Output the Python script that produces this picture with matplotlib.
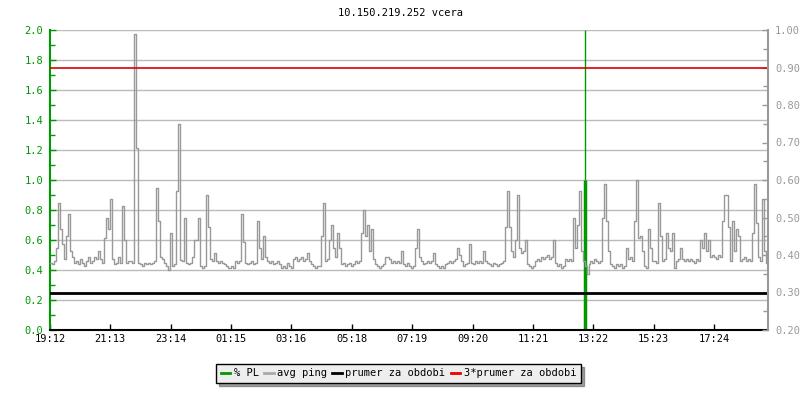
import numpy as np
import matplotlib
matplotlib.use('Agg')
import matplotlib.pyplot as plt
from matplotlib.ticker import MultipleLocator, FormatStrFormatter

# avg ping [ms], one sample every 4 minutes starting 19:12
ping_ms = [
    0.38, 0.375, 0.385, 0.42, 0.54, 0.47, 0.43, 0.39, 0.45, 0.51,
    0.41, 0.395, 0.38, 0.385, 0.375, 0.39, 0.38, 0.37, 0.385, 0.395,
    0.38, 0.385, 0.395, 0.39, 0.41, 0.39, 0.38, 0.445, 0.50, 0.47,
    0.55, 0.39, 0.375, 0.38, 0.395, 0.38, 0.53, 0.44, 0.38, 0.385,
    0.385, 0.38, 0.99, 0.685, 0.38, 0.375, 0.37, 0.38, 0.375, 0.38,
    0.375, 0.38, 0.385, 0.58, 0.49, 0.395, 0.39, 0.38, 0.37, 0.36,
    0.46, 0.37, 0.375, 0.57, 0.75, 0.387, 0.385, 0.50, 0.38, 0.375,
    0.38, 0.395, 0.44, 0.44, 0.50, 0.37, 0.365, 0.37, 0.56, 0.475,
    0.39, 0.385, 0.405, 0.385, 0.38, 0.385, 0.38, 0.375, 0.37, 0.365,
    0.365, 0.37, 0.365, 0.385, 0.38, 0.385, 0.51, 0.435, 0.38, 0.375,
    0.38, 0.385, 0.375, 0.38, 0.49, 0.42, 0.39, 0.45, 0.395, 0.385,
    0.38, 0.385, 0.375, 0.38, 0.385, 0.375, 0.365, 0.37, 0.365, 0.38,
    0.37, 0.365, 0.39, 0.395, 0.385, 0.39, 0.395, 0.385, 0.39, 0.405,
    0.385, 0.375, 0.37, 0.365, 0.37, 0.37, 0.45, 0.54, 0.385, 0.39,
    0.44, 0.48, 0.42, 0.395, 0.46, 0.42, 0.375, 0.38, 0.37, 0.375,
    0.38, 0.37, 0.375, 0.385, 0.38, 0.385, 0.46, 0.52, 0.45, 0.48,
    0.41, 0.47, 0.39, 0.375, 0.37, 0.365, 0.37, 0.375, 0.395, 0.395,
    0.39, 0.38, 0.385, 0.38, 0.385, 0.38, 0.41, 0.375, 0.37, 0.38,
    0.37, 0.365, 0.37, 0.42, 0.47, 0.395, 0.385, 0.375, 0.38, 0.385,
    0.38, 0.385, 0.405, 0.375, 0.37, 0.365, 0.37, 0.365, 0.375, 0.38,
    0.385, 0.38, 0.385, 0.39, 0.42, 0.40, 0.385, 0.37, 0.375, 0.38,
    0.43, 0.38, 0.375, 0.385, 0.38, 0.385, 0.38, 0.41, 0.385, 0.38,
    0.375, 0.37, 0.38, 0.375, 0.37, 0.375, 0.38, 0.385, 0.475, 0.57,
    0.475, 0.41, 0.395, 0.44, 0.56, 0.42, 0.405, 0.41, 0.44, 0.375,
    0.37, 0.365, 0.37, 0.385, 0.39, 0.385, 0.395, 0.39, 0.395, 0.40,
    0.39, 0.395, 0.44, 0.38, 0.37, 0.375, 0.365, 0.37, 0.39, 0.385,
    0.39, 0.385, 0.50, 0.42, 0.48, 0.57, 0.41, 0.385, 0.37, 0.35,
    0.375, 0.385, 0.38, 0.39, 0.385, 0.38, 0.385, 0.50, 0.59, 0.49,
    0.41, 0.375, 0.37, 0.365, 0.375, 0.37, 0.375, 0.365, 0.37, 0.42,
    0.39, 0.395, 0.385, 0.49, 0.60, 0.445, 0.45, 0.41, 0.37, 0.365,
    0.47, 0.42, 0.385, 0.385, 0.38, 0.54, 0.45, 0.385, 0.39, 0.46,
    0.42, 0.41, 0.46, 0.365, 0.385, 0.39, 0.42, 0.39, 0.385, 0.39,
    0.385, 0.39, 0.385, 0.38, 0.39, 0.385, 0.44, 0.42, 0.46, 0.41,
    0.44, 0.395, 0.40, 0.395, 0.39, 0.40, 0.395, 0.49, 0.56, 0.56,
    0.475, 0.385, 0.49, 0.41, 0.47, 0.45, 0.385, 0.39, 0.395, 0.385,
    0.39, 0.385, 0.46, 0.59, 0.485, 0.395, 0.385, 0.55, 0.41, 0.38,
]
sample_step = 4  # minutes

# packet loss event
pl_minutes = [1073]
pl_values = [1.0]
pl_peak = [2.0]

prumer = 0.30
prumer3 = 0.90

tick_labels = ['19:12', '21:13', '23:14', '01:15', '03:16', '05:18',
               '07:19', '09:20', '11:21', '13:22', '15:23', '17:24']
start = 19 * 60 + 12


def minutes_from_start(lbl):
    h, m = map(int, lbl.split(':'))
    return (h * 60 + m - start) % 1440


green = '#009900'
grey = '#999999'
font = 'DejaVu Sans Mono'
fs = 7.5
plt.rcParams['font.family'] = font

fig = plt.figure(figsize=(8, 4), dpi=100)
ax = fig.add_axes([50 / 800, 70 / 400, 718 / 800, 300 / 400])
ax2 = ax.twinx()

t = np.arange(len(ping_ms)) * sample_step
t = np.append(t, 1440)
v = np.append(ping_ms, ping_ms[-1])

ax.set_xlim(0, 1440)
ax.set_ylim(0, 2.0)
ax2.set_ylim(0.2, 1.0)

ax.yaxis.set_major_locator(MultipleLocator(0.2))
ax.yaxis.set_minor_locator(MultipleLocator(0.1))
ax.yaxis.set_major_formatter(FormatStrFormatter('%.1f'))
ax2.yaxis.set_major_locator(MultipleLocator(0.1))
ax2.yaxis.set_minor_locator(MultipleLocator(0.05))
ax2.yaxis.set_major_formatter(FormatStrFormatter('%.2f'))

ax.grid(True, axis='y', color='#bbbbbb', linewidth=1)
ax.set_axisbelow(True)

# packet loss
ax.vlines(pl_minutes, 0, pl_values, color=green, linewidth=2.5)
ax.vlines(pl_minutes, pl_values, pl_peak, color=green, linewidth=1)

ax2.step(t, v, where='post', color=grey, linewidth=1)
ax2.axhline(prumer, color='black', linewidth=2)
ax2.axhline(prumer3, color='#dd0000', linewidth=1.2)

ax.set_xticks([minutes_from_start(l) for l in tick_labels])
ax.set_xticklabels(tick_labels)

ax.tick_params(axis='x', direction='in', length=4, width=1, pad=3, labelsize=fs, colors='black')
ax.tick_params(axis='y', which='major', direction='in', length=4, width=1, pad=5,
               labelsize=fs, colors=green)
ax.tick_params(axis='y', which='minor', direction='in', length=3.5, width=1, colors=green)
ax2.tick_params(axis='y', which='major', direction='in', length=4, width=1, pad=5,
                labelsize=fs, colors=grey)
ax2.tick_params(axis='y', which='minor', direction='in', length=3.5, width=1, colors=grey)

for a in (ax, ax2):
    a.spines['top'].set_visible(False)
ax.spines['right'].set_visible(False)
ax.spines['left'].set_color(green)
ax.spines['left'].set_linewidth(1.5)
ax.spines['bottom'].set_color('black')
ax.spines['bottom'].set_linewidth(1.5)
ax2.spines['left'].set_visible(False)
ax2.spines['bottom'].set_visible(False)
ax2.spines['right'].set_color(grey)
ax2.spines['right'].set_linewidth(1.5)

fig.text(0.5, 1 - 13 / 400, '10.150.219.252 vcera', ha='center', va='center',
         fontsize=fs, color='black')

handles = [
    plt.Line2D([], [], color=green, linewidth=2),
    plt.Line2D([], [], color='#aaaaaa', linewidth=2),
    plt.Line2D([], [], color='black', linewidth=2),
    plt.Line2D([], [], color='#ee0000', linewidth=2),
]
labels = ['% PL', 'avg ping', 'prumer za obdobi', '3*prumer za obdobi']
leg = fig.legend(handles, labels, loc='center', bbox_to_anchor=(398.5 / 800, 1 - 373.5 / 400),
                 ncol=4, fontsize=fs, frameon=True, fancybox=False, shadow=True,
                 handlelength=0.9, handletextpad=0.35, columnspacing=0.5,
                 borderpad=0.45, borderaxespad=0)
leg.get_frame().set_edgecolor('black')
leg.get_frame().set_facecolor('#eeeeee')
leg.get_frame().set_linewidth(1)

fig.savefig('out.png', dpi=100)
